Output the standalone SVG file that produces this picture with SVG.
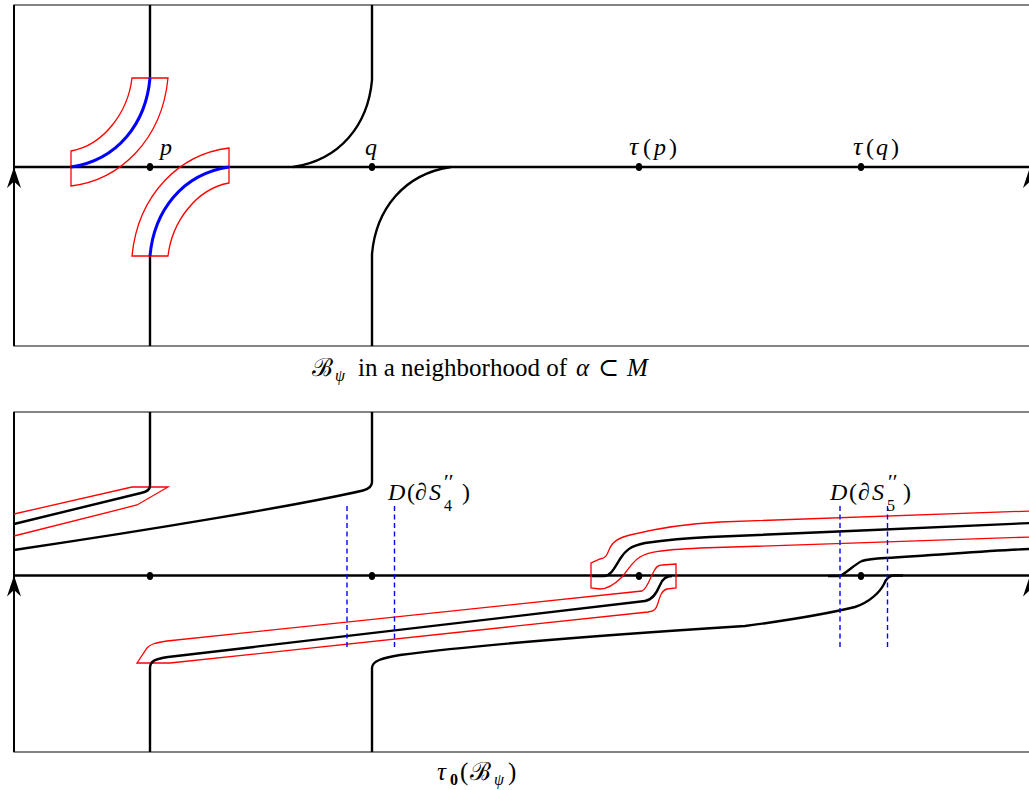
<svg xmlns="http://www.w3.org/2000/svg" width="1029" height="790" viewBox="0 0 1029 790">
<defs>
<style>
.frame{fill:none;stroke:#333;stroke-width:1.2}
.edge{fill:none;stroke:#000;stroke-width:2}
.curve{fill:none;stroke:#000;stroke-width:2.4}
.axis{fill:none;stroke:#000;stroke-width:2.4}
.red{fill:none;stroke:#f00;stroke-width:1.3}
.blue{fill:none;stroke:#00f;stroke-width:3}
.dash{fill:none;stroke:#00f;stroke-width:1.4;stroke-dasharray:5 3.5}
.dot{fill:#000}
.arrowhead{fill:#000}
text{font-family:"Liberation Serif","DejaVu Serif",serif;font-size:24px;fill:#000}
.it{font-style:italic}
.cap{font-size:25px}
.sm{font-size:16px}
.tau{font-size:26px}
.pr{font-size:22px}
</style>
<path id="arr" d="M0,0 L7,21 L0,14.5 L-7,21 Z"/>
<g id="band">
<path class="red" d="M132,78 L168,78 C162,140 120,180 71,186 L71,151 C104,145 128,112 132,78 Z"/>
<path class="blue" d="M150,78 C146,123 118,160 71,167"/>
</g>
</defs>

<g id="top-panel">
<rect class="frame" x="14" y="5" width="1016" height="341"/>
<line class="edge" x1="14" y1="5" x2="14" y2="346"/>
<g id="connectors-top">
<path class="axis" d="M14,167 H1031"/>
<path class="curve" d="M150,5 V78"/>
<path class="curve" d="M150,256 V346"/>
<path class="curve" d="M372,5 V80 C368,125 340,160 293,167"/>
<path class="curve" d="M451,167 C404,174 376,209 372,254 V346"/>
</g>
<g id="band-upper"><use href="#band"/></g>
<g id="band-lower"><use href="#band" transform="rotate(180 150 167)"/></g>
<g id="node-p"><ellipse class="dot" cx="150" cy="167" rx="3.2" ry="4"/><text class="it" x="160" y="155">p</text></g>
<g id="node-q"><ellipse class="dot" cx="372" cy="167" rx="3.2" ry="4"/><text class="it" x="365" y="155">q</text></g>
<g id="node-tp"><ellipse class="dot" cx="639" cy="167" rx="3.2" ry="4"/><text><tspan class="it tau" x="629" y="155">τ</tspan><tspan x="643">(</tspan><tspan class="it" x="654">p</tspan><tspan x="669">)</tspan></text></g>
<g id="node-tq"><ellipse class="dot" cx="861" cy="167" rx="3.2" ry="4"/><text><tspan class="it tau" x="853" y="155">τ</tspan><tspan x="866">(</tspan><tspan class="it" x="876">q</tspan><tspan x="891">)</tspan></text></g>
<use href="#arr" class="arrowhead" x="14" y="167"/>
<use href="#arr" class="arrowhead" x="1030" y="167"/>
<text class="cap"><tspan x="312" y="376">ℬ</tspan><tspan class="it sm" x="335" y="381">ψ</tspan><tspan x="358" y="376">in a neighborhood of</tspan><tspan class="it" x="576">α</tspan><tspan x="598">⊂</tspan><tspan class="it" x="627">M</tspan></text>
</g>

<g id="bottom-panel">
<rect class="frame" x="14" y="412" width="1016" height="340"/>
<line class="edge" x1="14" y1="412" x2="14" y2="752"/>
<g id="connectors-bottom">
<path class="axis" d="M14,575.5 H1031"/>
<path class="red" d="M14,514 L132,487 L168,487 L137,505 L14,536"/>
<path class="curve" d="M150,412 V486 C150,490 147,491.5 141,493 L14,524"/>
<path class="curve" d="M372,412 V482 C372,487 369,489 363,490.5 C300,505 150,530 14,550"/>
<path class="red" d="M137,663 L147,648 C150,644 155,643 167,641 L642,591 C647,589 650,578 654,571 C656,567 658,565 662,565 L676,564 L676,588 L667,589 C662,590 660,596 658,603 C656,610 654,611 648,612 L170,663 Z"/>
<path class="curve" d="M150,752 V668 C150,661 155,659 168,657 L645,601 C653,600 657,592 660,585 C662,580 665,576 672,576"/>
<path class="red" d="M1031,511 C900,515 800,520 720,522 C680,524 650,530 630,535 C618,538 612,542 609,550 C607,555 606,558 600,559 L591,563 L591,588 L600,589 C607,589 615,584 622,577 C628,570 632,562 640,557 C648,552 660,550 700,548 C800,545 950,540 1031,537"/>
<path class="curve" d="M592,576 L604,576 C611,576 615,567 620,559 C625,551 630,546 645,543 C665,540 685,538 710,537 C800,533 950,527 1031,523"/>
<path class="curve" d="M372,752 V668 C372,661 382,658 400,655 C500,642 650,632 745,626 C790,620 830,613 855,607 C870,602 880,592 884,584 C886,579 888,576 893,575.5 L903,575.5"/>
<path class="curve" d="M828,576 L840,576 C848,572 855,564 862,561 C868,559 875,558.5 885,558 C950,554 1000,550 1031,549"/>
<path class="dash" d="M347,506 V650"/>
<path class="dash" d="M394.5,506 V650"/>
<path class="dash" d="M840,506 V650"/>
<path class="dash" d="M887.5,506 V650"/>
</g>
<g id="node-b1"><ellipse class="dot" cx="150" cy="576" rx="3.2" ry="4"/></g>
<g id="node-b2"><ellipse class="dot" cx="372" cy="576" rx="3.2" ry="4"/></g>
<g id="node-b3"><ellipse class="dot" cx="639" cy="576" rx="3.2" ry="4"/></g>
<g id="node-b4"><ellipse class="dot" cx="861" cy="576" rx="3.2" ry="4"/></g>
<g id="label-d4"><text><tspan class="it" x="388" y="500">D</tspan><tspan x="407">(</tspan><tspan x="415">∂</tspan><tspan class="it" x="429">S</tspan><tspan class="pr" x="444" y="489">′′</tspan><tspan class="sm" x="444" y="511">4</tspan><tspan x="462" y="500">)</tspan></text></g>
<g id="label-d5"><text><tspan class="it" x="830" y="500">D</tspan><tspan x="849">(</tspan><tspan x="858">∂</tspan><tspan class="it" x="872">S</tspan><tspan class="pr" x="888" y="489">′′</tspan><tspan class="sm" x="887" y="511">5</tspan><tspan x="903" y="500">)</tspan></text></g>
<use href="#arr" class="arrowhead" x="14" y="575.5"/>
<use href="#arr" class="arrowhead" x="1030" y="575.5"/>
<text class="cap"><tspan class="it" x="437" y="780">τ</tspan><tspan class="sm" font-weight="bold" x="450" y="785">0</tspan><tspan x="460" y="780">(</tspan><tspan x="470">ℬ</tspan><tspan class="it sm" x="494" y="785">ψ</tspan><tspan x="508" y="780">)</tspan></text>
</g>
</svg>
